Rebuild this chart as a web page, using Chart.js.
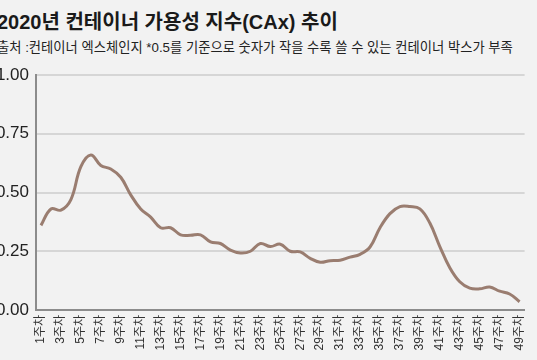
<!DOCTYPE html>
<html>
<head>
<meta charset="utf-8">
<script src="https://cdn.jsdelivr.net/npm/chart.js@4"></script>
<style>
  body { margin: 0; background: #f2f2f2; width: 537px; height: 360px; overflow: hidden; position: relative;
         font-family: "Liberation Sans", "Noto Sans CJK KR", sans-serif; }
  #title { position: absolute; left: -3px; top: 6px; font-size: 20px; font-weight: bold; color: #1a1a1a; white-space: nowrap; }
  #sub { position: absolute; left: -3px; top: 37px; font-size: 13.3px; color: #222; white-space: nowrap; }
  #wrap { position: absolute; left: -8px; top: 0; width: 547px; height: 360px; }
</style>
</head>
<body>
<div id="title">2020년 컨테이너 가용성 지수(CAx) 추이</div>
<div id="sub">출처 :컨테이너 엑스체인지 *0.5를 기준으로 숫자가 작을 수록 쓸 수 있는 컨테이너 박스가 부족</div>
<div id="wrap"><canvas id="caxChart"></canvas></div>
<script>
// weeks 1..49
let weeks = [];
for (let i = 1; i <= 49; i++) weeks.push(i + "주차");

let caxValues = [
  0.36, 0.43, 0.425, 0.47, 0.61, 0.66, 0.615, 0.60, 0.565, 0.49,
  0.43, 0.395, 0.35, 0.35, 0.32, 0.318, 0.32, 0.29, 0.283, 0.255,
  0.243, 0.25, 0.283, 0.27, 0.28, 0.25, 0.247, 0.22, 0.203, 0.21,
  0.212, 0.225, 0.237, 0.268, 0.35, 0.41, 0.44, 0.44, 0.43, 0.37,
  0.27, 0.18, 0.12, 0.093, 0.09, 0.098, 0.08, 0.068, 0.035
];

let yTicks = [0, 0.25, 0.5, 0.75, 1.0];

let fontFamily = '"Liberation Sans", "Noto Sans CJK KR", sans-serif';

let ctx = document.getElementById('caxChart').getContext('2d');
let caxChart = new Chart(ctx, {
  type: 'line',
  data: {
    labels: weeks,
    datasets: [{
      data: caxValues,
      borderColor: '#9a7d70',
      borderWidth: 3,
      pointRadius: 0,
      tension: 0.4,
      fill: false
    }]
  },
  options: {
    responsive: true,
    maintainAspectRatio: false,
    animation: false,
    layout: { padding: { top: 75, right: 1, bottom: 0, left: 0 } },
    plugins: { legend: { display: false }, tooltip: { enabled: false } },
    scales: {
      x: {
        offset: true,
        grid: { display: false, drawTicks: false },
        border: { color: '#8c8c8c', width: 2 },
        afterFit: function (scale) { scale.height = 50; },
        ticks: {
          autoSkip: false,
          minRotation: 90,
          maxRotation: 90,
          padding: 5,
          color: '#333',
          font: { family: fontFamily, size: 12 },
          callback: function (val, idx) { return idx % 2 === 0 ? weeks[idx] : ''; }
        }
      },
      y: {
        min: 0,
        max: 1,
        afterBuildTicks: function (scale) { scale.ticks = yTicks.map(v => ({ value: v })); },
        afterFit: function (scale) { scale.width = 44; },
        grid: { color: '#d6d6d6', lineWidth: 2, drawTicks: false },
        border: { color: '#8c8c8c', width: 2 },
        ticks: {
          padding: 7,
          color: '#222',
          font: { family: fontFamily, size: 17 },
          callback: function (v) { return v.toFixed(2); }
        }
      }
    }
  }
});
</script>
</body>
</html>
